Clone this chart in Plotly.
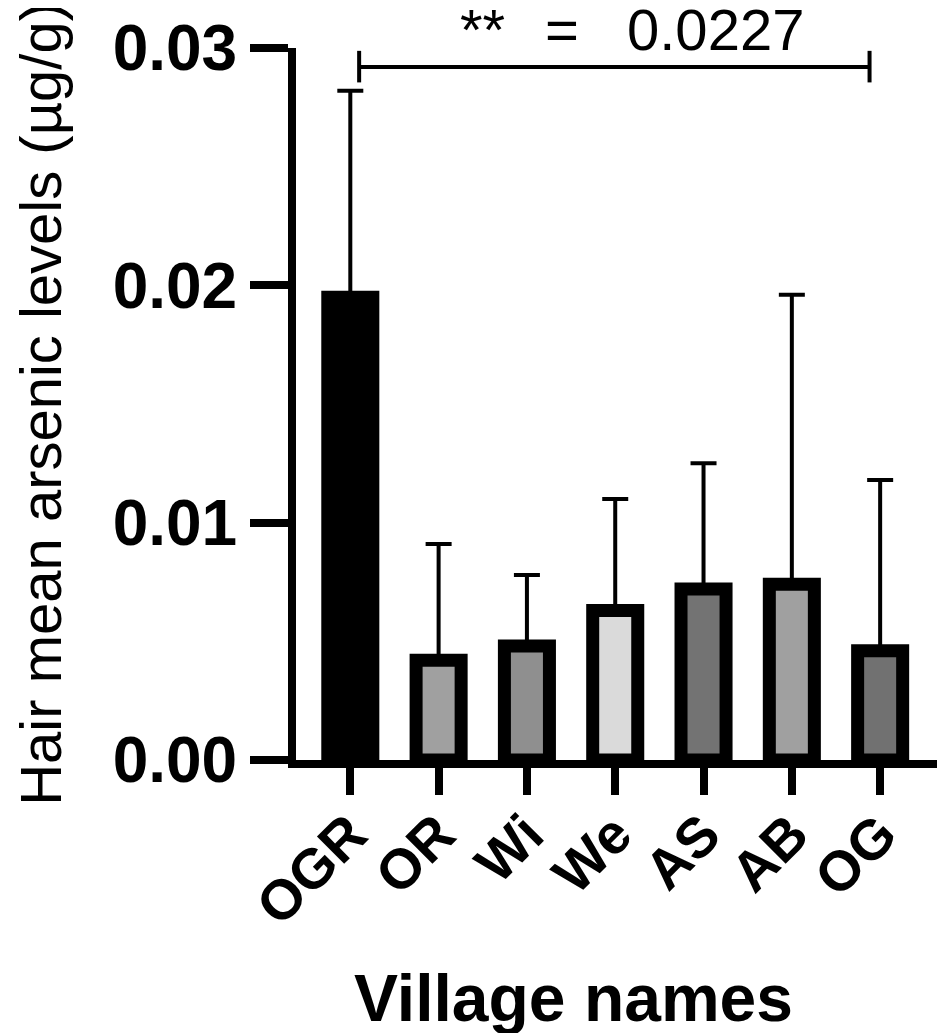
import plotly.graph_objects as go

# данные по деревням (средний уровень мышьяка в волосах, мкг/г)
villages = ["OGR", "OR", "Wi", "We", "AS", "AB", "OG"]
mean_as = [0.0195, 0.0042, 0.0048, 0.0063, 0.0072, 0.0074, 0.0046]
sd_as = [0.0087, 0.0049, 0.0030, 0.0047, 0.0053, 0.0122, 0.0072]
fills = ["#000000", "#a0a0a0", "#8f8f8f", "#dadada", "#737373", "#a0a0a0", "#717171"]

y_ticks = [0.0, 0.01, 0.02, 0.03]
y_ticktext = ["0.00", "0.01", "0.02", "0.03"]

# сравнение для скобки со значимостью
pair = ("OGR", "OG")
sig_parts = ["**", "=", "0.0227"]
sig_x = [1.5, 2.4, 4.13]
bracket_y = 0.0292

FONT = "Liberation Sans, Arial, Helvetica, sans-serif"

fig = go.Figure()

fig.add_trace(
    go.Bar(
        x=villages,
        y=mean_as,
        width=0.51,
        marker=dict(color=fills, line=dict(color="black", width=13)),
        error_y=dict(
            type="data",
            symmetric=False,
            array=sd_as,
            arrayminus=[0] * len(sd_as),
            color="black",
            thickness=4,
            width=13,
        ),
        showlegend=False,
    )
)

# скобка между OGR и OG
i0 = villages.index(pair[0]) + 0.1
i1 = villages.index(pair[1]) - 0.12
fig.add_shape(type="line", x0=i0, x1=i1, y0=bracket_y, y1=bracket_y,
              xref="x", yref="y", line=dict(color="black", width=4))
for xi in (i0, i1):
    fig.add_shape(type="line", x0=xi, x1=xi, y0=bracket_y - 0.00065, y1=bracket_y + 0.00068,
                  xref="x", yref="y", line=dict(color="black", width=4))

# подпись значимости над скобкой
for txt, xp in zip(sig_parts, sig_x):
    fig.add_annotation(
        x=xp, y=0.02932, xref="x", yref="y",
        text=txt, showarrow=False, yanchor="bottom", xanchor="center",
        font=dict(family=FONT, size=58, color="black"),
    )

# подписи осей
fig.add_annotation(
    x=-0.39, y=0.5, xref="paper", yref="paper",
    text="Hair mean arsenic levels (µg/g)", textangle=-90, showarrow=False,
    xanchor="center", yanchor="middle",
    font=dict(family=FONT, size=58, color="black"),
)
fig.add_annotation(
    x=0.423, y=-0.334, xref="paper", yref="paper",
    text="<b>Village names</b>", showarrow=False,
    xanchor="center", yanchor="middle",
    font=dict(family=FONT, size=66, color="black"),
)

fig.update_layout(
    width=945,
    height=1033,
    margin=dict(l=288, r=0, t=40, b=281),
    plot_bgcolor="white",
    paper_bgcolor="white",
)

fig.update_xaxes(
    type="category",
    range=[-0.615, 6.825],
    showline=True, linecolor="black", linewidth=8,
    ticks="outside", ticklen=27, tickwidth=8, tickcolor="black",
    tickangle=-45, ticklabelstandoff=-16,
    tickfont=dict(family=FONT, size=56, color="black", weight="bold"),
    showgrid=False, zeroline=False,
)
fig.update_yaxes(
    range=[0, 0.03],
    tickvals=y_ticks, ticktext=y_ticktext,
    showline=True, linecolor="black", linewidth=8,
    ticks="outside", ticklen=38, tickwidth=8, tickcolor="black",
    tickfont=dict(family=FONT, size=64, color="black", weight="bold"),
    showgrid=False, zeroline=False,
)

fig.write_html("out.html")
